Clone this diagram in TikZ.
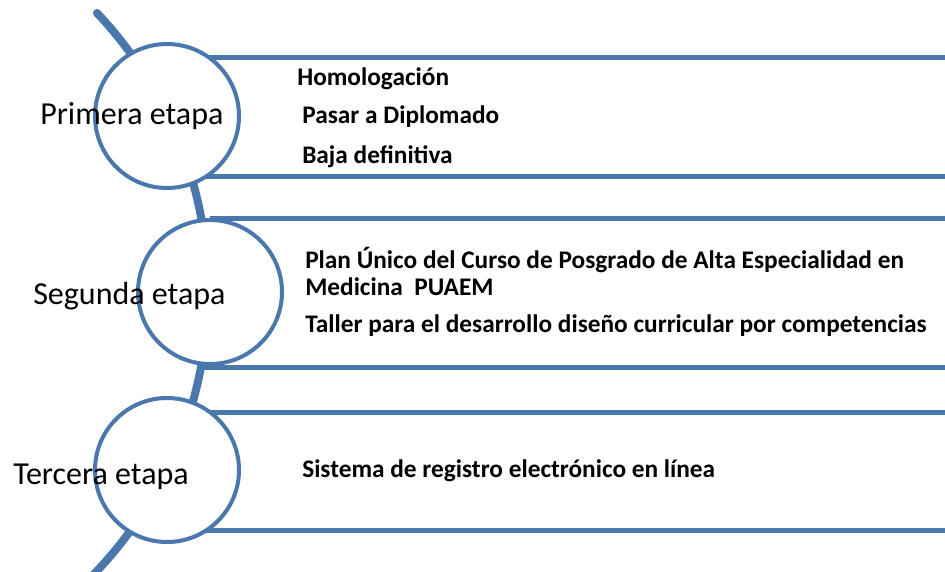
\documentclass[tikz,border=0pt]{standalone}
\usepackage{fontspec}
\setmainfont{Carlito}
\usetikzlibrary{positioning}
\definecolor{etapablue}{RGB}{74,119,172}

\begin{document}
\begin{tikzpicture}[
  x=0.75pt, y=-0.75pt,
  etapa/.style={circle, draw=etapablue, line width=3pt, fill=white, minimum size=108pt, inner sep=0pt},
  etiq/.style={anchor=base west, inner sep=0pt, font=\fontsize{24}{28}\selectfont},
  item/.style={anchor=base west, inner sep=0pt, font=\fontsize{19}{22}\selectfont\bfseries},
  banda/.style={fill=white, draw=none},
  borde/.style={draw=etapablue, line width=3.75pt},
  eje/.style={draw=etapablue, line width=6pt, line cap=round}
]
  \useasboundingbox (0,0) rectangle (945,571);
  \clip (0,0) rectangle (945,571);

  % curved spine behind the circles
  \draw[eje] (97,13) arc[start angle=-43.4, end angle=52, radius=406];

  % bands
  \fill[banda] (167,57) rectangle (960,176);
  \draw[borde] (167,57) -- (960,57) (167,176) -- (960,176);
  \fill[banda] (210,218) rectangle (960,367);
  \draw[borde] (210,218) -- (960,218) (200,367) -- (960,367);
  \fill[banda] (167,412) rectangle (960,530);
  \draw[borde] (167,412) -- (960,412) (167,530) -- (960,530);

  % circles
  \node[etapa] (c1) at (167,116) {};
  \node[etapa] (c2) at (210,292) {};
  \node[etapa] (c3) at (167,470) {};

  \node[etiq] (l1) at (40,124) {Primera etapa};
  \node[etiq] (l2) at (33,304) {Segunda etapa};
  \node[etiq] (l3) at (13,484) {Tercera etapa};

  % items
  \node[item] (i1) at (297,85) {Homologación};
  \node[item] (i2) at (302,123) {Pasar a Diplomado};
  \node[item] (i3) at (302,163) {Baja definitiva};
  \node[item] (i4) at (305,268) {Plan Único del Curso de Posgrado de Alta Especialidad en};
  \node[item] (i5) at (305,295) {Medicina~~PUAEM};
  \node[item] (i6) at (305,332) {Taller para el desarrollo diseño curricular por competencias};
  \node[item] (i7) at (302,477) {Sistema de registro electrónico en línea};
\end{tikzpicture}
\end{document}
